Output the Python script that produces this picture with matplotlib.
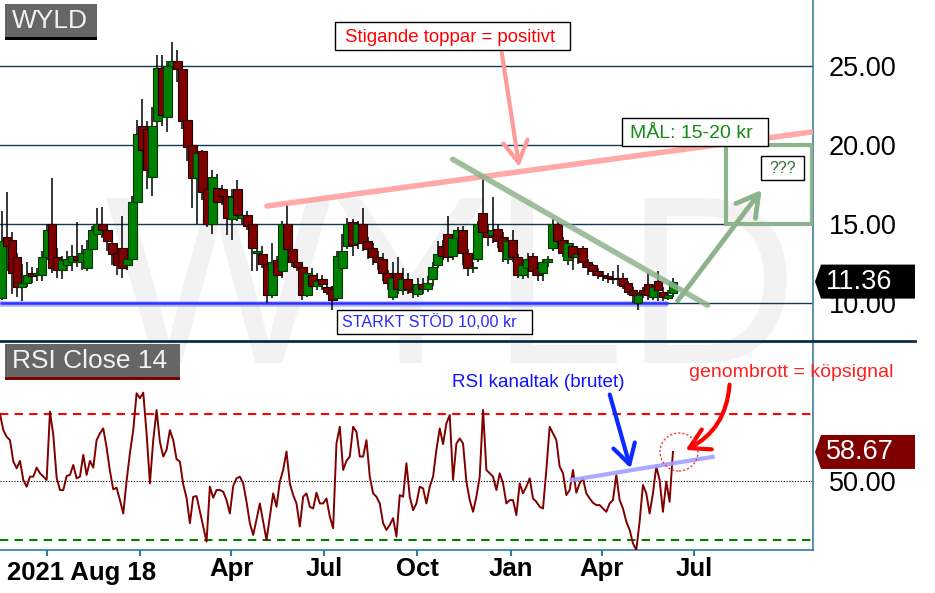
import numpy as np
import matplotlib
matplotlib.use("Agg")
import matplotlib.pyplot as plt
import matplotlib.dates as mdates
from matplotlib.patches import Rectangle, Polygon, Ellipse
from matplotlib.lines import Line2D
from matplotlib.transforms import IdentityTransform

plt.rcParams['font.family'] = ['Liberation Sans', 'DejaVu Sans']

W, H = 935, 593

# candles 2021-08-18 .. 2023-06-10
opens = [10.3, 14.2, 14.0, 12.9, 11.0, 11.3, 11.9, 11.8, 11.8, 12.9,
         15.0, 12.9, 12.1, 12.4, 12.6, 13.0, 12.6, 12.2, 13.4, 14.4,
         15.0, 14.6, 13.8, 13.2, 13.5, 12.4, 12.8, 16.4, 21.2, 21.0,
         18.0, 21.5, 24.9, 21.8, 25.0, 25.3, 24.8, 21.6, 20.0, 17.9,
         19.6, 17.2, 15.0, 17.3, 17.2, 16.8, 15.3, 17.2, 15.4, 15.6,
         15.0, 13.2, 13.1, 12.5, 10.5, 12.7, 12.0, 15.0, 13.4, 12.6,
         12.3, 10.5, 11.8, 11.1, 11.5, 11.0, 10.9, 10.3, 12.2, 13.6,
         15.1, 13.8, 15.0, 13.9, 13.5, 12.9, 12.8, 11.9, 10.4, 11.9,
         10.8, 11.5, 10.9, 10.6, 11.2, 10.9, 11.5, 12.4, 13.6, 14.4,
         13.0, 14.1, 14.6, 13.2, 12.2, 12.8, 15.7, 14.5, 14.3, 14.7,
         14.2, 12.8, 14.0, 12.9, 11.8, 12.2, 13.0, 12.2, 11.9, 12.6,
         13.5, 15.0, 14.0, 12.7, 13.6, 12.9, 13.5, 12.6, 12.4, 12.0,
         11.8, 11.7, 11.6, 11.6, 11.6, 11.3, 10.8, 10.0, 10.8, 11.2,
         10.4, 11.4, 10.7, 10.3, 10.65]
highs = [15.8, 17.0, 14.5, 13.2, 12.5, 12.6, 12.3, 12.2, 13.3, 15.0,
         17.9, 13.5, 13.0, 13.3, 13.7, 15.1, 13.7, 14.0, 14.9, 16.0,
         16.1, 14.9, 14.0, 13.6, 15.5, 13.0, 16.8, 21.6, 22.9, 21.5,
         22.4, 25.7, 25.7, 25.3, 26.5, 26.0, 25.0, 21.7, 20.2, 19.8,
         19.7, 17.4, 18.4, 18.2, 17.5, 17.0, 17.2, 17.8, 16.0, 15.8,
         15.2, 13.8, 13.6, 12.7, 13.8, 13.0, 15.2, 16.3, 13.8, 12.9,
         12.6, 12.3, 12.2, 11.9, 11.8, 11.4, 11.1, 13.3, 14.4, 15.4,
         15.3, 15.2, 16.0, 14.2, 13.8, 13.3, 13.2, 12.1, 12.6, 12.9,
         12.2, 11.9, 11.2, 11.6, 11.6, 11.7, 12.6, 13.9, 14.0, 15.5,
         14.4, 14.8, 14.9, 13.4, 12.6, 15.2, 18.0, 15.0, 16.7, 15.0,
         14.5, 14.2, 14.6, 13.1, 12.6, 13.2, 13.2, 12.4, 12.8, 13.0,
         15.3, 15.1, 14.2, 14.0, 13.8, 13.4, 13.6, 12.8, 12.5, 12.2,
         12.0, 11.9, 12.0, 12.4, 11.9, 11.4, 11.0, 10.7, 11.0, 11.9,
         11.2, 12.0, 11.0, 10.8, 11.6]
lows = [10.2, 12.0, 10.6, 10.4, 10.1, 11.0, 11.3, 11.4, 11.4, 12.7,
        11.9, 11.6, 11.5, 12.0, 12.0, 12.3, 12.1, 12.0, 13.1, 13.9,
        14.1, 13.3, 12.4, 11.8, 11.6, 12.1, 12.6, 16.0, 18.4, 17.2,
        16.8, 21.0, 21.2, 20.8, 23.8, 24.0, 21.0, 19.0, 16.0, 15.0,
        16.5, 14.8, 14.4, 15.3, 16.2, 14.3, 14.0, 15.2, 15.0, 14.6,
        12.0, 12.0, 12.2, 10.0, 10.3, 11.2, 11.6, 13.0, 12.3, 12.0,
        10.2, 10.4, 10.6, 10.8, 10.8, 10.5, 9.55, 10.2, 11.6, 13.4,
        13.0, 13.4, 13.3, 12.8, 12.4, 12.1, 11.4, 10.8, 10.2, 10.6,
        10.5, 10.6, 10.3, 10.4, 10.6, 10.7, 11.1, 12.2, 12.7, 12.6,
        12.7, 13.8, 12.4, 11.7, 11.9, 12.6, 14.3, 13.6, 13.8, 13.5,
        12.6, 12.5, 12.6, 11.6, 11.5, 11.6, 11.7, 11.4, 11.4, 12.3,
        13.3, 13.6, 12.9, 12.4, 12.1, 12.5, 12.2, 11.8, 11.7, 11.5,
        11.4, 11.3, 11.2, 11.1, 10.9, 10.5, 10.0, 9.55, 10.3, 10.2,
        10.2, 10.1, 10.1, 10.2, 10.4]
closes = [13.9, 13.6, 11.9, 11.0, 11.3, 11.8, 11.7, 11.9, 12.9, 14.6,
          12.2, 12.1, 12.7, 12.8, 13.0, 12.7, 13.2, 13.4, 14.6, 15.0,
          14.6, 13.9, 13.1, 12.4, 12.2, 12.8, 16.4, 20.7, 19.7, 18.4,
          21.2, 24.9, 21.9, 25.0, 25.3, 24.8, 21.5, 19.9, 17.9, 19.5,
          17.0, 15.0, 18.0, 16.4, 16.8, 15.4, 16.7, 15.6, 15.6, 14.9,
          13.5, 13.3, 12.5, 10.5, 12.6, 11.8, 15.0, 13.4, 12.6, 12.3,
          10.5, 11.9, 11.1, 11.4, 11.2, 10.7, 10.2, 13.0, 13.3, 15.0,
          13.7, 15.0, 13.8, 13.4, 12.9, 12.6, 11.9, 11.3, 11.6, 10.9,
          11.5, 10.9, 10.7, 11.2, 10.9, 11.3, 12.3, 13.1, 13.0, 12.9,
          14.1, 14.6, 13.2, 12.2, 12.3, 15.0, 14.5, 14.2, 14.6, 13.9,
          13.3, 13.9, 12.9, 11.8, 12.4, 12.8, 12.0, 11.8, 12.6, 12.8,
          15.0, 13.9, 13.2, 13.8, 12.9, 13.1, 12.6, 12.3, 12.0, 11.8,
          11.7, 11.6, 11.5, 11.5, 11.1, 10.7, 10.5, 10.5, 10.6, 10.5,
          11.0, 10.8, 10.4, 10.5, 11.36]

# RSI(14) on close, 2021-08-16 .. 2023-06-10
rsi = [70.0, 65.2, 63.2, 62.2, 55.8, 53.8, 56.0, 50.3, 48.3, 51.3,
       51.3, 54.0, 52.3, 51.3, 50.3, 70.7, 63.7, 51.0, 47.3, 47.3,
       51.5, 51.8, 54.8, 50.8, 51.3, 57.8, 51.8, 56.0, 54.0, 62.2,
       64.2, 65.7, 60.0, 53.0, 47.5, 48.0, 44.3, 40.3, 50.0, 58.3,
       65.2, 76.2, 74.7, 76.4, 64.2, 49.3, 62.2, 71.2, 61.7, 57.3,
       59.3, 65.2, 62.2, 56.5, 55.8, 49.0, 45.0, 37.4, 45.3, 45.5,
       41.0, 36.4, 31.9, 48.3, 45.0, 47.3, 47.3, 46.8, 44.3, 40.3,
       48.5, 50.8, 51.3, 49.3, 43.8, 37.4, 33.9, 38.5, 43.3, 37.9,
       32.4, 39.4, 46.3, 42.3, 49.8, 53.3, 58.8, 49.3, 45.8, 43.3,
       36.4, 45.3, 46.3, 42.3, 41.8, 46.5, 43.3, 43.3, 44.8, 39.4,
       35.9, 61.2, 66.2, 53.3, 56.0, 57.3, 66.2, 64.7, 57.3, 57.3,
       62.2, 51.3, 46.3, 45.3, 43.3, 37.4, 35.4, 36.9, 38.9, 33.4,
       45.8, 45.3, 55.3, 45.3, 41.3, 43.3, 48.3, 47.8, 43.3, 48.3,
       51.3, 59.3, 65.7, 61.0, 67.2, 69.7, 50.3, 61.2, 62.7, 61.2,
       49.8, 44.3,
       40.8, 45.3, 51.3, 71.2, 53.3, 52.3, 51.3, 47.3, 52.3, 49.3,
       43.3, 44.3, 44.3, 39.8, 49.3, 46.3, 48.3, 50.8, 44.8, 43.8,
       42.3, 41.8, 53.3, 66.2, 64.2, 62.2, 54.3, 52.3, 45.8, 47.3,
       53.3, 46.5, 49.3, 50.8, 46.3, 44.8, 43.5, 42.8, 42.8, 41.8,
       40.8, 43.3, 44.3, 51.8, 44.3, 41.8, 37.9, 35.4, 31.4, 29.4,
       37.9, 48.8, 46.3, 40.3, 46.3, 54.3, 50.3, 40.8, 49.8, 43.8,
       58.67]

price_ticks = [10, 15, 20, 25]
month_ticks = ['2021-10-01', '2022-01-01', '2022-04-01', '2022-07-01',
               '2022-10-01', '2023-01-01', '2023-04-01', '2023-07-01']
month_labels = ['', '', 'Apr', 'Jul', 'Oct', 'Jan', 'Apr', 'Jul']
last_price = 11.36
last_rsi = 58.67
rsi_high, rsi_mid, rsi_low = 70, 50, 32.4
support = 10.0

d = mdates.datestr2num
candle_x = np.linspace(d('2021-08-18'), d('2023-06-10'), len(closes))
rsi_x = np.linspace(d('2021-08-16'), d('2023-06-10'), len(rsi))
x_left, x_right = d('2021-08-16'), d('2023-10-26')


def fx(px):
    return px / W


def fy(py):
    return 1 - py / H


fig = plt.figure(figsize=(W / 100, H / 100), dpi=100)
fig.patch.set_facecolor('white')
ax = fig.add_axes([0, fy(341), fx(813), 341 / H])
axr = fig.add_axes([0, fy(550), fx(813), 209 / H])
for a in (ax, axr):
    a.set_facecolor('none')
    a.set_xlim(x_left, x_right)
    for s in a.spines.values():
        s.set_visible(False)
    a.spines['right'].set_visible(True)
    a.spines['right'].set_color('#3c7fa3')
    a.spines['right'].set_linewidth(1.2)
ax.set_ylim(7.6, 29.18)
axr.set_ylim(29.4, 91.8)

# watermark
fig.text(fx(452), fy(363), 'WYLD', fontsize=173, color='#f2f2f2',
         ha='center', va='baseline', zorder=-1)

# price panel
for v in price_ticks:
    ax.axhline(v, color='#123a52', lw=1, zorder=1)
ax.hlines(support - 0.07, x_left, d('2023-06-05'), color='#aab4ff', lw=4, zorder=2)
ax.hlines(support, x_left, d('2023-06-05'), color='#3030ff', lw=1.8, zorder=2)

o = np.array(opens)
c = np.array(closes)
up = c >= o
body_lo = np.minimum(o, c)
body_h = np.maximum(np.abs(c - o), 0.06)
ax.vlines(candle_x, lows, highs, color='black', lw=1.1, zorder=3)
ax.bar(candle_x, body_h, 8.6, body_lo,
       color=['#008000' if u else '#800000' for u in up],
       edgecolor=['#003a00' if u else '#200000' for u in up],
       lw=0.8, zorder=4)

ax.yaxis.tick_right()
ax.set_yticks(price_ticks)
ax.set_yticklabels([f'{v:.2f}' for v in price_ticks])
ax.tick_params(axis='y', length=0, pad=11.5, labelsize=19.5)
ax.set_xticks([])

# trend lines and arrows
ax.plot([d('2022-05-06'), d('2023-10-26')], [16.14, 20.84],
        color='#ff9a9a', lw=4, alpha=0.85, solid_capstyle='round', zorder=5)
ax.plot([d('2022-11-05'), d('2023-07-14')], [19.1, 9.87],
        color='#8db38d', lw=4, alpha=0.85, solid_capstyle='round', zorder=5)
ax.annotate('', xy=(d('2023-01-10'), 18.45), xytext=(d('2022-12-23'), 26.0),
            arrowprops=dict(arrowstyle='->,head_length=0.7,head_width=0.4',
                            color='#ff9a9a', lw=3, mutation_scale=22), zorder=5)
ax.annotate('', xy=(d('2023-09-07'), 17.3), xytext=(d('2023-06-13'), 10.0),
            arrowprops=dict(arrowstyle='->,head_length=0.7,head_width=0.4',
                            color='#8db38d', lw=3.5, mutation_scale=22), zorder=5)
ax.add_patch(Rectangle((d('2023-08-01'), 15.0), d('2023-10-25') - d('2023-08-01'), 5.0,
                       fill=False, edgecolor='#8db38d', lw=3, zorder=5))

# RSI panel
axr.plot(rsi_x, rsi, color='#800000', lw=1.4, zorder=4)
axr.axhline(rsi_high, color='#ff0000', lw=1.5, ls=(0, (4, 3)), zorder=2)
axr.axhline(rsi_low, color='#008000', lw=1.5, ls=(0, (4, 3)), zorder=2)
axr.axhline(rsi_mid, color='black', lw=0.8, ls=(0, (1, 1.5)), zorder=2)
axr.plot([d('2023-03-02'), d('2023-07-19')], [50.3, 57.2],
         color='#a0a0ff', lw=3, alpha=0.9, zorder=5)
axr.annotate('', xy=(d('2023-04-30'), 53.0), xytext=(d('2023-04-08'), 76.6),
             arrowprops=dict(arrowstyle='->,head_length=0.7,head_width=0.4',
                             color='#0a2aff', lw=3, mutation_scale=20), zorder=6)
axr.annotate('', xy=(d('2023-06-20'), 58.9), xytext=(d('2023-08-05'), 79.6),
             arrowprops=dict(arrowstyle='->,head_length=0.7,head_width=0.4',
                             color='#ff0000', lw=3, mutation_scale=20,
                             connectionstyle='arc3,rad=-0.3'), zorder=6)

axr.spines['bottom'].set_visible(True)
axr.spines['bottom'].set_color('#2c7da0')
axr.spines['bottom'].set_linewidth(1.2)
axr.yaxis.tick_right()
axr.set_yticks([rsi_mid])
axr.set_yticklabels([f'{rsi_mid:.2f}'])
axr.tick_params(axis='y', length=0, pad=11.5, labelsize=19.5)
axr.set_xticks([d(t) for t in month_ticks])
axr.set_xticklabels(month_labels, fontweight='bold', fontsize=18.5)
axr.tick_params(axis='x', direction='out', length=4, width=1.5,
                color='#2c7da0', pad=1)
fig.text(fx(7), fy(580), '2021 Aug 18', fontsize=18.5, fontweight='bold',
         va='baseline')

# separator between panels
fig.add_artist(Line2D([0, fx(915)], [fy(341), fy(341)], color='#0d2e40',
                      lw=2, transform=fig.transFigure, zorder=4))

# panel title boxes
fig.add_artist(Rectangle((fx(5), fy(37)), 92 / W, 33 / H, transform=fig.transFigure,
                         facecolor='#666666', edgecolor='none', zorder=5))
fig.add_artist(Rectangle((fx(5), fy(40)), 92 / W, 3 / H, transform=fig.transFigure,
                         facecolor='black', edgecolor='none', zorder=5))
fig.text(fx(12), fy(28.5), 'WYLD', color='#f2f2f2', fontsize=19, va='baseline', zorder=6)
fig.add_artist(Rectangle((fx(5), fy(377)), 175 / W, 33 / H, transform=fig.transFigure,
                         facecolor='#666666', edgecolor='none', zorder=5))
fig.add_artist(Rectangle((fx(5), fy(380)), 175 / W, 3 / H, transform=fig.transFigure,
                         facecolor='#800000', edgecolor='none', zorder=5))
fig.text(fx(12), fy(368.5), 'RSI Close 14', color='#f2f2f2', fontsize=19,
         va='baseline', zorder=6)


def note_box(x0, y0, x1, y1, text, color, size, tx, ty):
    fig.add_artist(Rectangle((fx(x0), fy(y1)), (x1 - x0) / W, (y1 - y0) / H,
                             transform=fig.transFigure, facecolor='white',
                             edgecolor='black', lw=1, zorder=5))
    fig.text(fx(tx), fy(ty), text, color=color, fontsize=size, ha='center',
             va='baseline', zorder=6)


note_box(335, 22, 570, 50, 'Stigande toppar = positivt', '#ff0000', 13.4, 450, 42)
note_box(622, 118, 768, 146, 'MÅL: 15-20 kr', '#138a13', 14, 691, 137.5)
note_box(761, 156, 804, 180, '???', '#2f6f2f', 11.5, 782.5, 173)
note_box(337, 310, 532, 334, 'STARKT STÖD 10,00 kr', '#2a2aff', 11.6, 429, 327)
fig.text(fx(538), fy(387), 'RSI kanaltak (brutet)', color='#1212ff', fontsize=13.6,
         ha='center', va='baseline', zorder=6)
fig.text(fx(791), fy(377), 'genombrott = köpsignal', color='#ff2020', fontsize=14,
         ha='center', va='baseline', zorder=6)
fig.add_artist(Ellipse((fx(679), fy(452)), 38 / W, 38 / H, transform=fig.transFigure,
                       fill=False, edgecolor='#ff3030', lw=1, ls=(0, (1.5, 1.5)), zorder=6))


# last value tags on the right
def tag(axis, value, face):
    yc = axis.transData.transform((x_left, value))[1]
    pts = [(815, yc), (821, yc + 17), (915, yc + 17), (915, yc - 17), (821, yc - 17)]
    fig.add_artist(Polygon(pts, closed=True, transform=IdentityTransform(),
                           facecolor=face, edgecolor='none', zorder=7))
    fig.text(826 / W, yc / H, f'{value:.2f}', color='white', fontsize=19.5,
             va='center', zorder=8)


tag(ax, last_price, 'black')
tag(axr, last_rsi, '#800000')

fig.savefig('out.png', dpi=100, facecolor='white')
